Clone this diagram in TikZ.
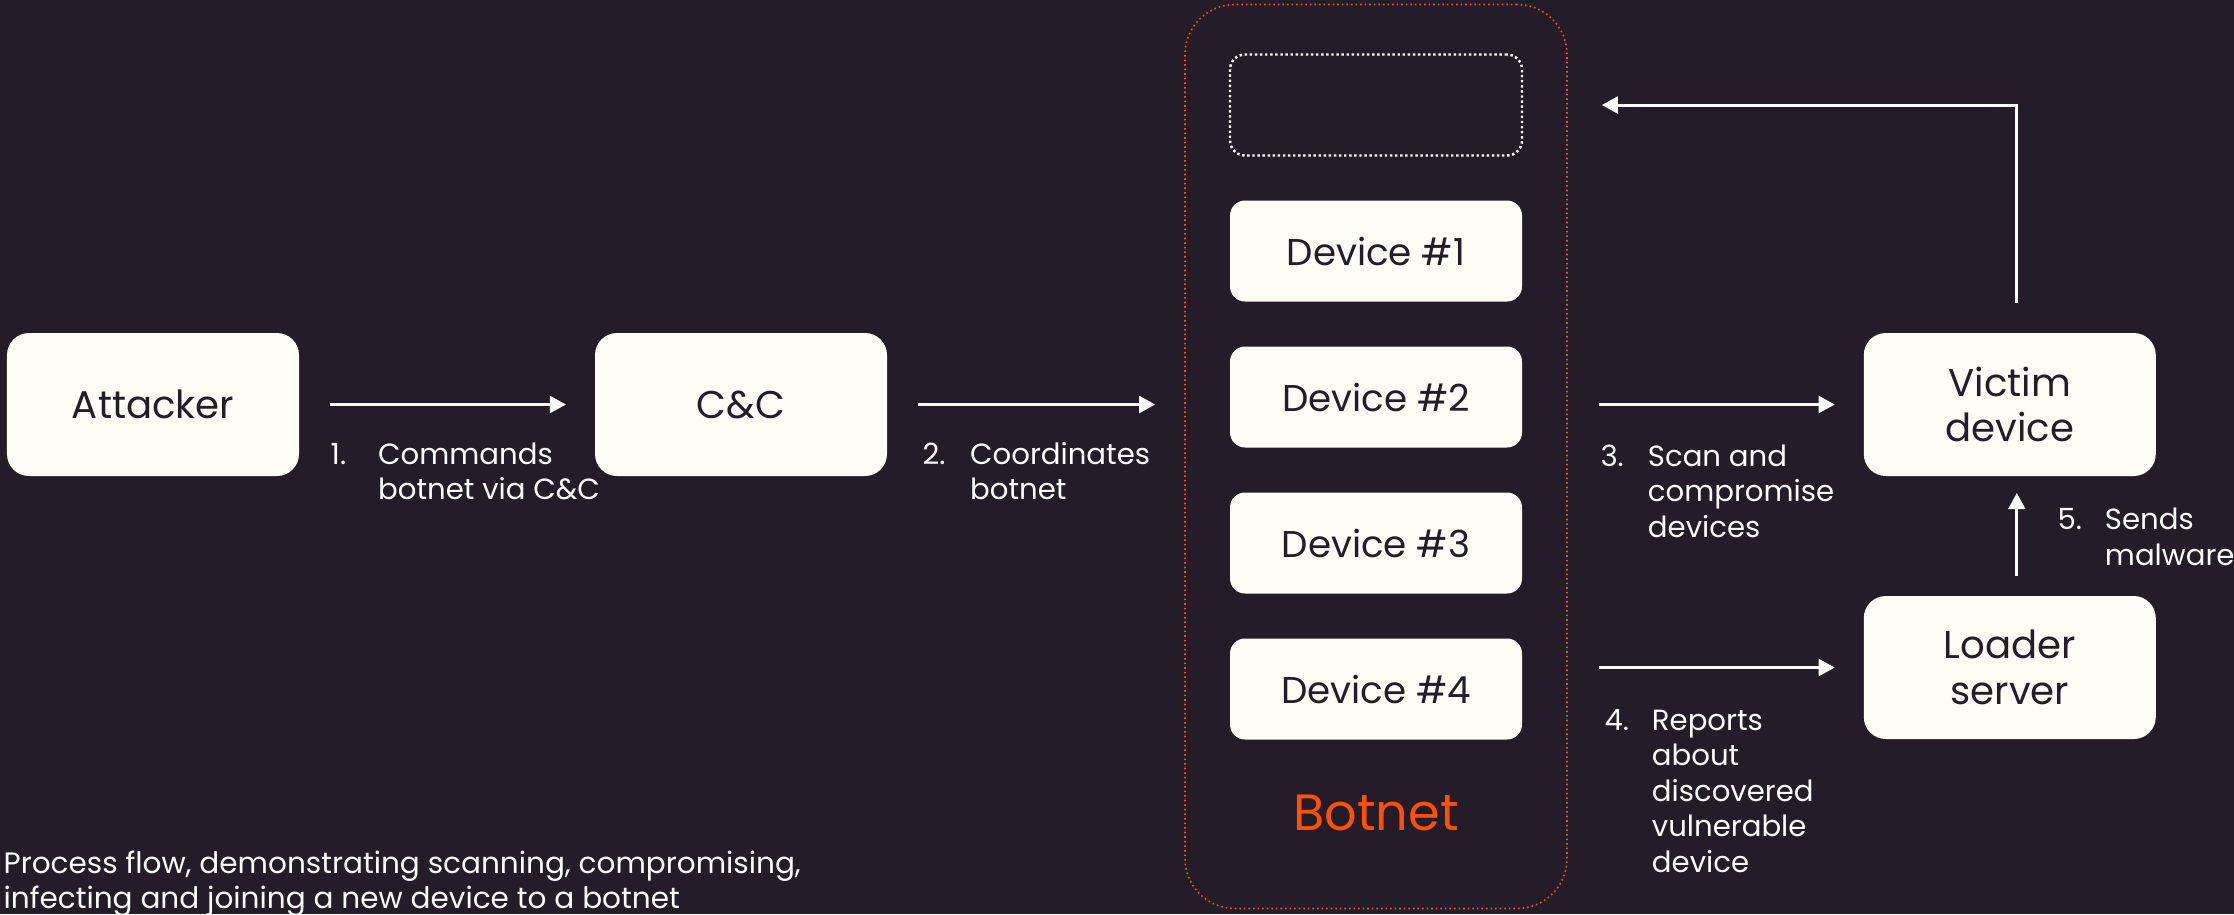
\documentclass[tikz,border=0pt]{standalone}
\usepackage{fontspec}
\setmainfont{Poppins}
\usetikzlibrary{positioning,fit,arrows.meta}

\definecolor{bgdark}{HTML}{241C29}
\definecolor{boxfill}{HTML}{FEFEF6}
\definecolor{botorange}{HTML}{FF5005}

% number + indented text block under an arrow
\newcommand{\stepnote}[2]{\makebox[13.5pt][l]{#1}\begin{tabular}[t]{@{}l@{}}#2\end{tabular}}

\begin{document}
\begin{tikzpicture}[
	node distance=2.96cm and 2.96cm,
	mybox/.style = {
		fill=boxfill, rectangle, rounded corners=0.22cm, align=center,
		text=bgdark, font=\fontsize{11}{13}\selectfont,
		minimum width=2.92cm, minimum height=1.43cm,
		inner sep=0pt, outer sep=0pt},
	devbox/.style = {
		mybox, minimum height=1.01cm, rounded corners=0.15cm,
		font=\fontsize{10.6}{13}\selectfont},
	slotbox/.style = {
		devbox, fill=none, draw=white, line width=0.7pt,
		dash pattern=on 0.7pt off 0.75pt},
	frame/.style = {
		draw=botorange, rectangle, rounded corners=0.5cm, line width=0.45pt,
		dash pattern=on 0.45pt off 0.85pt, inner xsep=0.45cm, inner ysep=0pt},
	mynote/.style = {
		anchor=north west, inner sep=0pt, text=white,
		font=\fontsize{8.3}{10.1}\selectfont},
	arrow/.style = {
		draw=white, line width=0.85pt, -{Triangle[length=4.6pt,width=4.8pt]},
		shorten <=0.31cm, shorten >=0.29cm}
]
\useasboundingbox (0,0) rectangle (22.34,-9.14);
\fill[bgdark] (0,0) rectangle (22.34,-9.14);

\node (attacker) [mybox] at (1.53,-4.045) {Attacker};
\node (cc)       [mybox, right=of attacker] {C\&C};

% botnet column
\node (slot) [slotbox] at (13.76,-1.05) {};
\begin{scope}[node distance=0.45cm]
	\node (dev1) [devbox, below=of slot] {Device \#1};
	\node (dev2) [devbox, below=of dev1] {Device \#2};
	\node (dev3) [devbox, below=of dev2] {Device \#3};
	\node (dev4) [devbox, below=of dev3] {Device \#4};
\end{scope}
\node (botlabel) [below=0.55cm of dev4, inner sep=0pt, text=botorange,
                  font=\fontsize{14.5}{16}\selectfont] {Botnet};

\coordinate (bn-top) at ([yshift=0.5cm]slot.north);
\coordinate (bn-bot) at ([yshift=-1.69cm]dev4.south);
\node (botnet) [frame, fit=(bn-top)(bn-bot)(slot)(dev4)] {};

\coordinate (vrow) at (botnet.east |- attacker);
\node (victim) [mybox, right=2.96cm of vrow] {Victim\\device};
\node (loader) [mybox, below=1.2cm of victim] {Loader\\server};

\draw[arrow] (attacker) -- (cc);
\draw[arrow] (cc.east) -- (cc.east -| botnet.west);
\draw[arrow] (vrow) -- (victim);
\draw[arrow] (botnet.east |- loader) -- (loader);
\draw[arrow, shorten <=0.2cm, shorten >=0.17cm]
	([xshift=0.07cm]loader.north) -- ([xshift=0.07cm]victim.south);
\draw[arrow, shorten <=0.3cm, shorten >=0.34cm]
	([xshift=0.07cm]victim.north) -- ([xshift=0.07cm]victim.north |- slot)
	-- (botnet.east |- slot);

\node (n1) [mynote, below right=0.34cm and 0.31cm of attacker.east]
	{\stepnote{1.}{Commands\\botnet via C\&C}};
\node (n2) [mynote, below right=0.34cm and 0.35cm of cc.east]
	{\stepnote{2.}{Coordinates\\botnet}};
\node (n3) [mynote, below right=0.36cm and 0.32cm of vrow]
	{\stepnote{3.}{Scan and\\compromise\\devices}};
\node (n4) [mynote, below right=0.37cm and 0.36cm of botnet.east |- loader]
	{\stepnote{4.}{Reports\\about\\discovered\\vulnerable\\device}};
\node (n5) [mynote, below right=0.28cm and 0.47cm of victim.south]
	{\stepnote{5.}{Sends\\malware}};

\node (caption) [mynote, align=left, font=\fontsize{8.4}{10.1}\selectfont]
	at (0.03,-8.5)
	{Process flow, demonstrating scanning, compromising,\\
	 infecting and joining a new device to a botnet};
\end{tikzpicture}
\end{document}
